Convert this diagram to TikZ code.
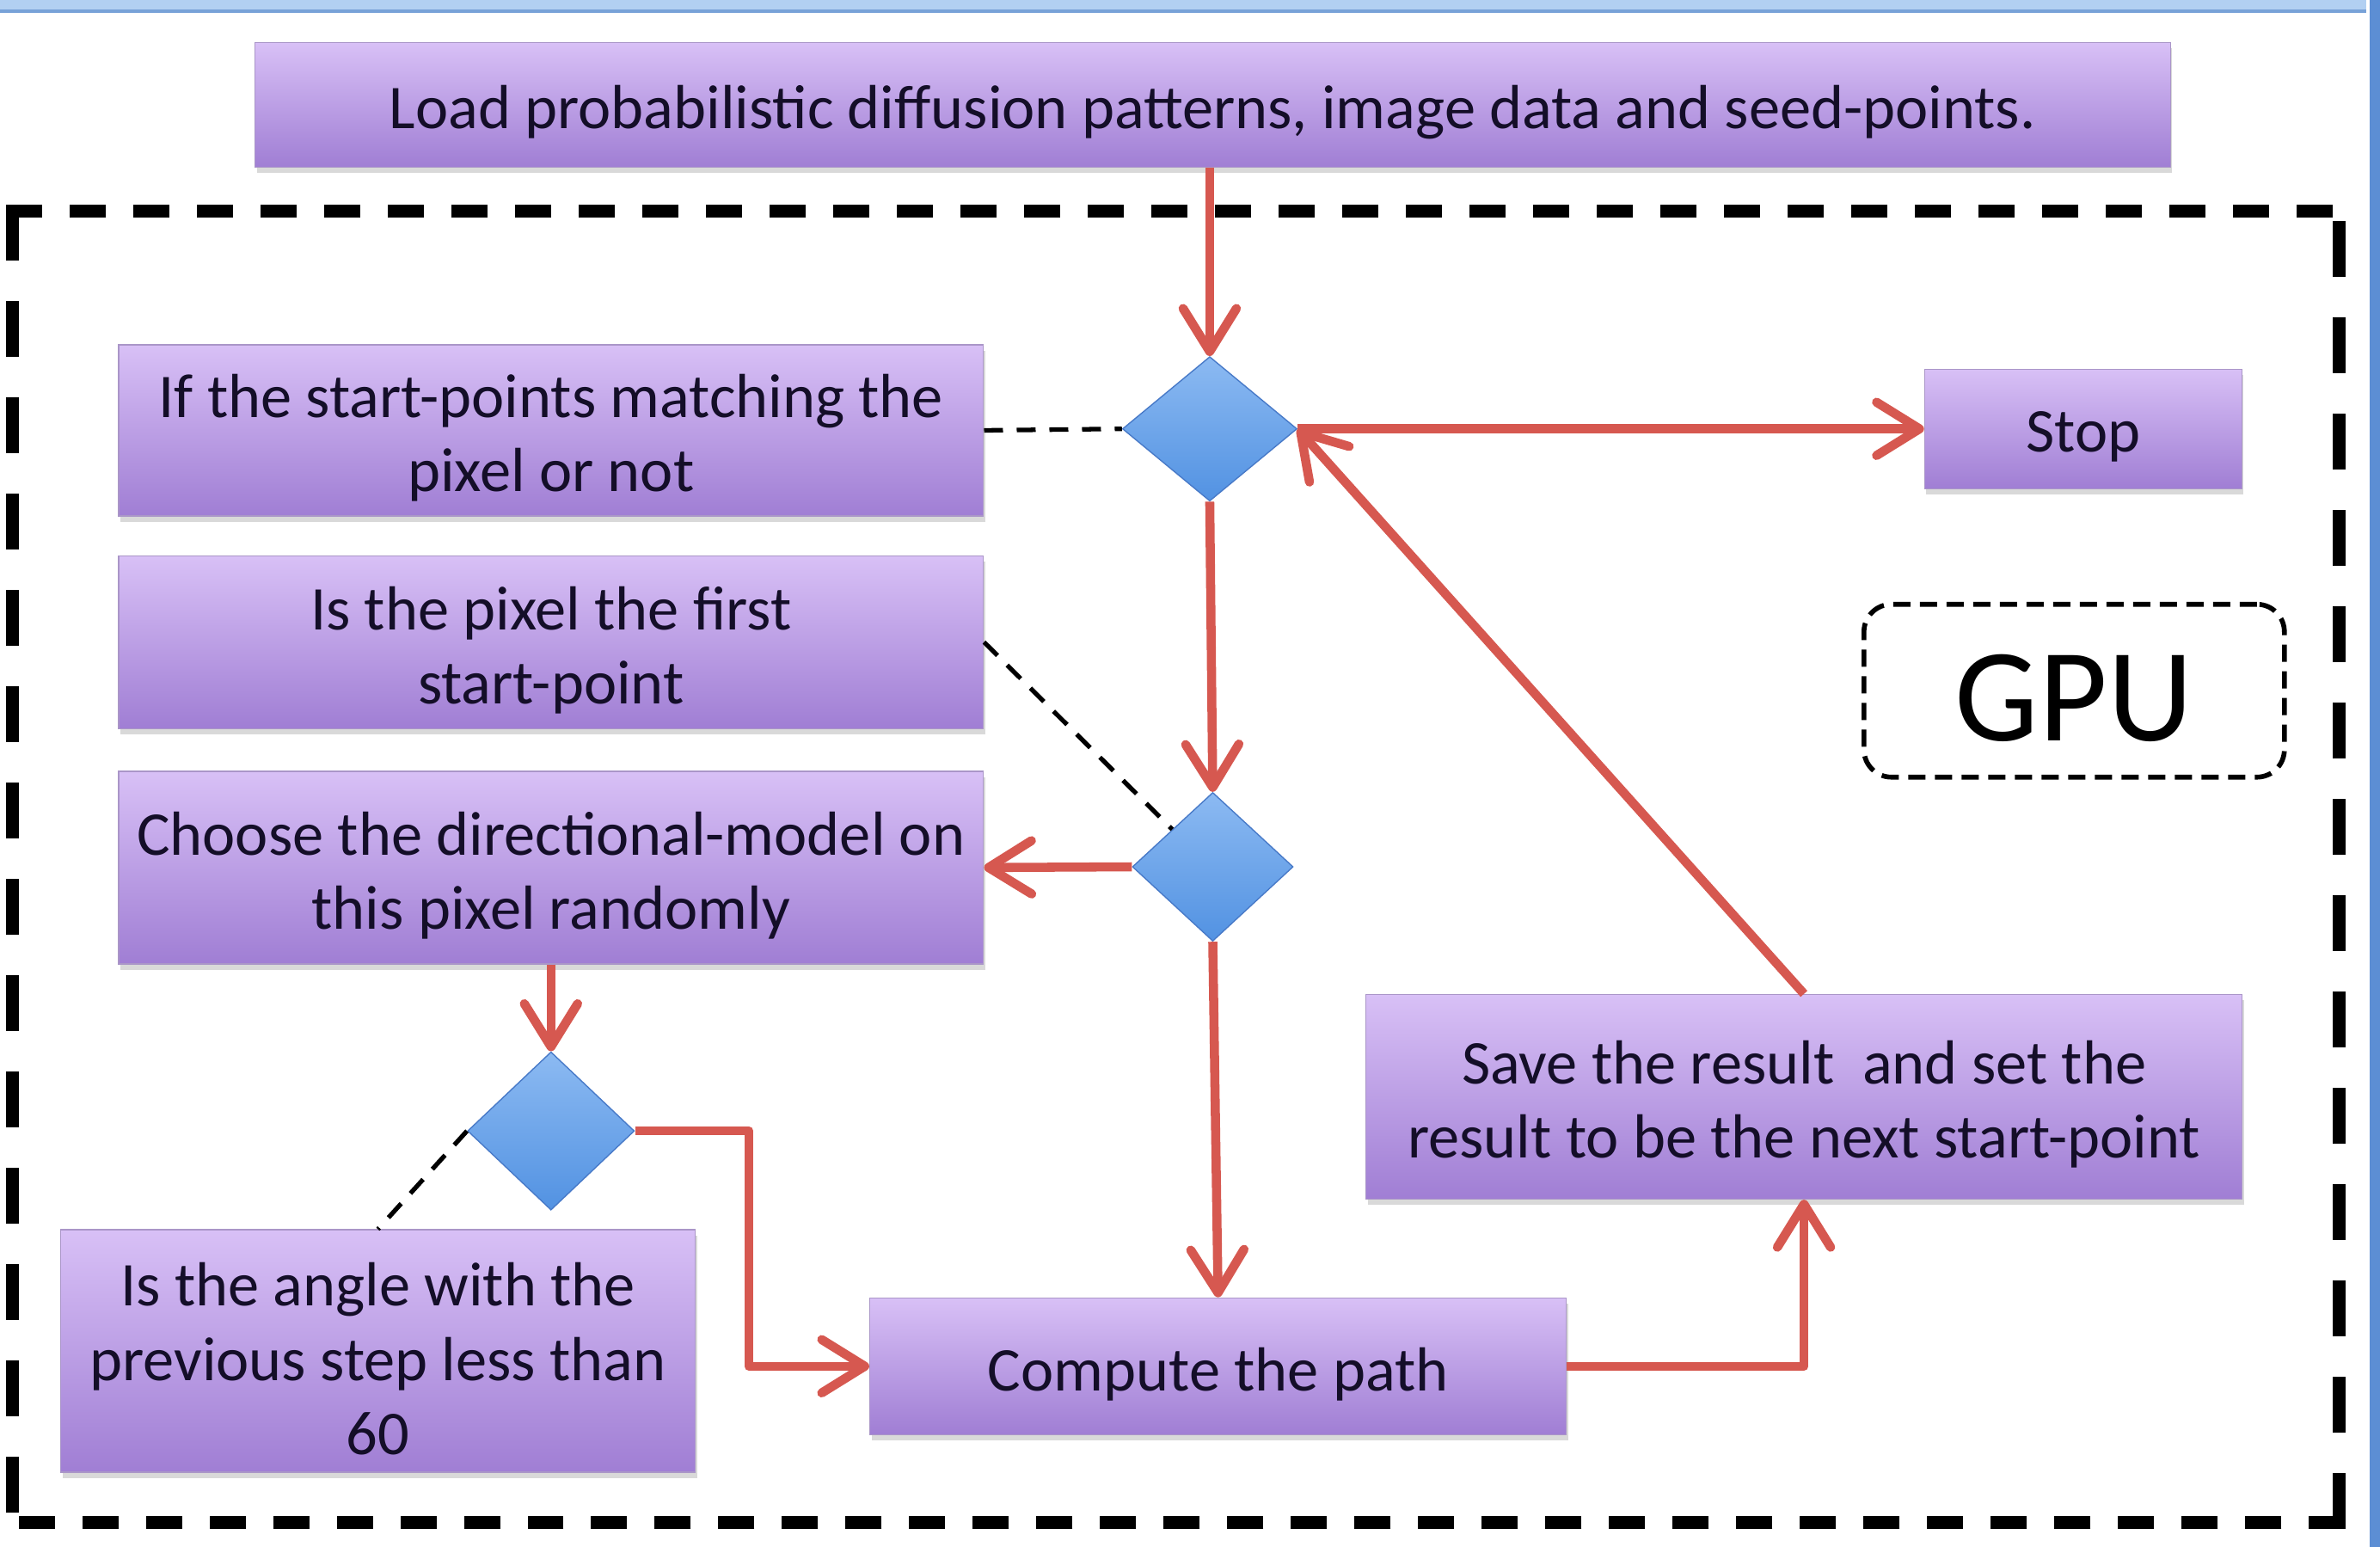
\documentclass[tikz,border=0pt]{standalone}
\usepackage{fontspec}
\setmainfont{Carlito}
\usetikzlibrary{shapes.geometric,arrows.meta,shadows}
\definecolor{arrred}{RGB}{214,88,80}
\definecolor{boxtop}{RGB}{216,192,246}
\definecolor{boxbot}{RGB}{160,126,212}
\definecolor{boxedge}{RGB}{170,150,200}
\definecolor{diatop}{RGB}{140,186,242}
\definecolor{diabot}{RGB}{82,146,226}
\definecolor{diaedge}{RGB}{72,122,200}
\definecolor{textcol}{RGB}{20,14,40}
\definecolor{topbar}{RGB}{178,208,242}
\definecolor{topbarline}{RGB}{120,162,216}
\definecolor{sidebar}{RGB}{92,142,212}
\begin{document}
\begin{tikzpicture}[x=0.017653cm,y=-0.017653cm,
  box/.style={rectangle, top color=boxtop, bottom color=boxbot, draw=boxedge, line width=0.4pt,
    inner sep=0pt,
    drop shadow={opacity=0.3,shadow xshift=0.02cm,shadow yshift=-0.07cm}},
  boxtxt/.style={align=center, font=\fontsize{20.6}{24.5}\selectfont, text=textcol,
    inner sep=0pt, yshift=-0.09cm},
  dia/.style={diamond, top color=diatop, bottom color=diabot, draw=diaedge, line width=0.4pt, inner sep=0pt},
  arr/.style={draw=arrred, line width=3pt, line join=round,
    -{Straight Barb[length=0.5cm,width=0.62cm,line width=3pt,round]}},
  dsh/.style={draw=black, line width=1.5pt, dash pattern=on 0.22cm off 0.16cm},
  hdash/.style={draw=black, line width=0.15cm, dash pattern=on 0.42cm off 0.32cm},
  vdash/.style={draw=black, line width=0.15cm, dash pattern=on 0.65cm off 0.47cm},
]
\useasboundingbox (0,0) rectangle (1568,1019);
% window frame
\fill[topbar] (0,0) rectangle (1559,8);
\fill[topbarline] (0,6.5) rectangle (1559,8.5);
\fill[sidebar] (1561,0) rectangle (1568,1019);

% big dashed GPU region
\draw[hdash] (4,139) -- (1545,139);
\draw[vdash] (8,135) -- (8,1007);
\draw[hdash] (1545,1003) -- (4,1003);
\draw[vdash] (1541,1007) -- (1541,135);

% nodes
\node[box, minimum width=22.28cm, minimum height=1.45cm,
  label={[boxtxt]center:Load probabilistic diffusion patterns, image data and seed-points.}] (load) at (799,69) {};
\node[box, minimum width=10.06cm, minimum height=1.99cm,
  label={[boxtxt]center:{If the start-points matching the\\pixel or not}}] (A) at (363,283.5) {};
\node[box, minimum width=10.06cm, minimum height=2.01cm,
  label={[boxtxt]center:{Is the pixel the first\\start-point}}] (B) at (363,423) {};
\node[box, minimum width=10.06cm, minimum height=2.24cm,
  label={[boxtxt]center:{Choose the directional-model on\\this pixel randomly}}] (C) at (363,571.5) {};
\node[box, minimum width=7.38cm, minimum height=2.82cm,
  label={[boxtxt]center:{Is the angle with the\\previous step less than\\60}}] (D) at (249,890) {};
\node[box, minimum width=8.10cm, minimum height=1.59cm,
  label={[boxtxt]center:Compute the path}] (E) at (802.5,900) {};
\node[box, minimum width=10.19cm, minimum height=2.38cm,
  label={[boxtxt]center:{Save the result\ \ and set the\\result to be the next start-point}}] (F) at (1188.5,722.5) {};
\node[box, minimum width=3.69cm, minimum height=1.39cm,
  label={[boxtxt]center:Stop}] (stop) at (1372.5,282.5) {};
\node[draw=black, line width=1.6pt, rounded corners=0.32cm, dash pattern=on 0.2cm off 0.11cm,
  minimum width=4.89cm, minimum height=2.01cm, inner sep=0pt,
  label={[boxtxt, font=\fontsize{44}{50}\selectfont, text=black]center:GPU}] (gpu) at (1366.5,455) {};

\node[dia, minimum width=2.03cm, minimum height=1.68cm] (d1) at (797,282.5) {};
\node[dia, minimum width=1.87cm, minimum height=1.73cm] (d2) at (799,571) {};
\node[dia, minimum width=1.94cm, minimum height=1.84cm] (d3) at (363,745) {};

% dashed association lines
\draw[dsh] (A.east) -- (d1.west);
\draw[dsh] (B.east) -- (d2.north west);
\draw[dsh] (d3.west) -- (D.north);

% arrows
\draw[arr] (d1.north |- load.south) -- (d1.north);
\draw[arr] (d1.east) -- (stop.west);
\draw[arr] (d1.south) -- (d2.north);
\draw[arr] (d2.west) -- (C.east);
\draw[arr] (d2.south) -- (E.north);
\draw[arr] (C.south) -- (d3.north);
\draw[arr] (d3.east) -- ++(75,0) |- (E.west);
\draw[arr] (E.east) -| (F.south);
\draw[arr] (F.north) -- (d1.east);
\end{tikzpicture}
\end{document}
